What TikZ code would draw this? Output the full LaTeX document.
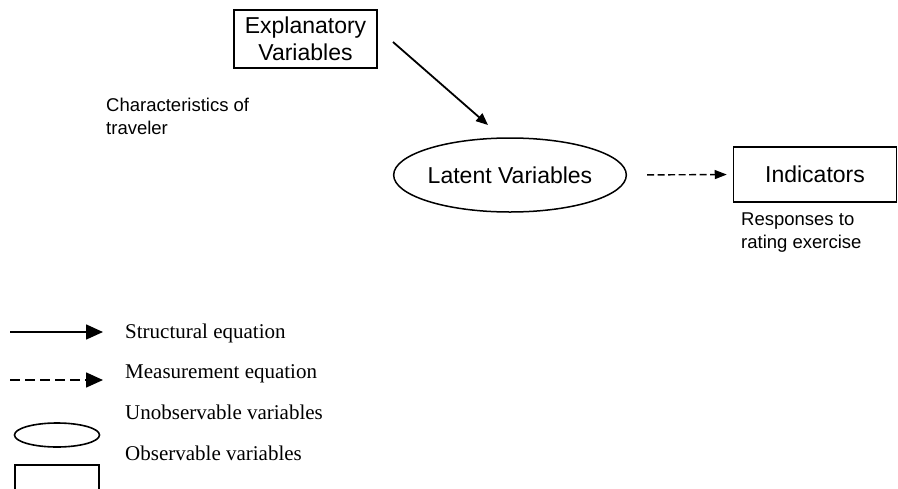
\documentclass[tikz,border=0pt]{standalone}
\usepackage{fontspec}
\setmainfont{Liberation Serif}
\newfontfamily\arialfont{Liberation Sans}
\usetikzlibrary{arrows.meta,shapes.geometric}
\begin{document}
\begin{tikzpicture}[x=1pt,y=-1pt,
  labelfont/.style={font=\arialfont\fontsize{23}{27}\selectfont},
  notefont/.style={font=\arialfont\fontsize{18.5}{23}\selectfont},
  legfont/.style={font=\fontsize{21}{25}\selectfont},
  box/.style={draw, line width=1.5pt, inner sep=0pt, align=center, labelfont},
  latent/.style={draw, ellipse, line width=1.5pt, inner sep=0pt, labelfont},
  note/.style={anchor=west, align=left, inner sep=0pt, notefont},
  legtext/.style={anchor=base west, inner sep=0pt, legfont},
  structarrow/.style={line width=1.8pt, -{Triangle[length=12pt,width=10pt]}},
  measarrow/.style={line width=1.4pt, dash pattern=on 7pt off 3.5pt,
    -{Triangle[length=12pt,width=9pt]}},
  legstruct/.style={line width=1.6pt, -{Triangle[length=17pt,width=15pt]}},
  legmeas/.style={line width=1.6pt, dash pattern=on 10pt off 5pt,
    -{Triangle[length=17pt,width=15pt]}}
]
\useasboundingbox (0,0) rectangle (898,488);

% model nodes
\node[box, minimum width=143pt, minimum height=58pt] (ex) at (305.5,39)
  {Explanatory\\Variables};
\node[latent, minimum width=200pt, minimum height=74pt] (lat) at (510,175)
  {Latent Variables};
\node[box, minimum width=163pt, minimum height=55pt] (ind) at (815,174.5)
  {Indicators};

% annotations
\node[note] (trav) at (106,116.5) {Characteristics of\\traveler};
\node[note] (resp) at (741,232.5) {Responses to\\rating exercise};

% structural equation
\coordinate (s1) at (393,42);
\coordinate (e1) at (488,125);
\draw[structarrow] (s1) -- (e1);

% measurement equation
\draw[measarrow, shorten <=20pt, shorten >=6pt] (lat.east) -- (ind.west);

% legend
\coordinate (ls1) at (10,332);
\coordinate (le1) at (103,332);
\draw[legstruct] (ls1) -- (le1);
\node[legtext] (t1) at (125,338) {Structural equation};

\coordinate (ls2) at (10,380);
\coordinate (le2) at (103,380);
\draw[legmeas] (ls2) -- (le2);
\node[legtext] (t2) at (125,378) {Measurement equation};

\node[legtext] (t3) at (125,419) {Unobservable variables};
\node[draw, ellipse, line width=1.6pt, minimum width=85pt, minimum height=24pt,
  inner sep=0pt] (legell) at (57,435) {};

\node[legtext] (t4) at (125,460) {Observable variables};
\draw[line width=1.6pt] (15,490) -- (15,465) -- (99,465) -- (99,490);
\end{tikzpicture}
\end{document}
